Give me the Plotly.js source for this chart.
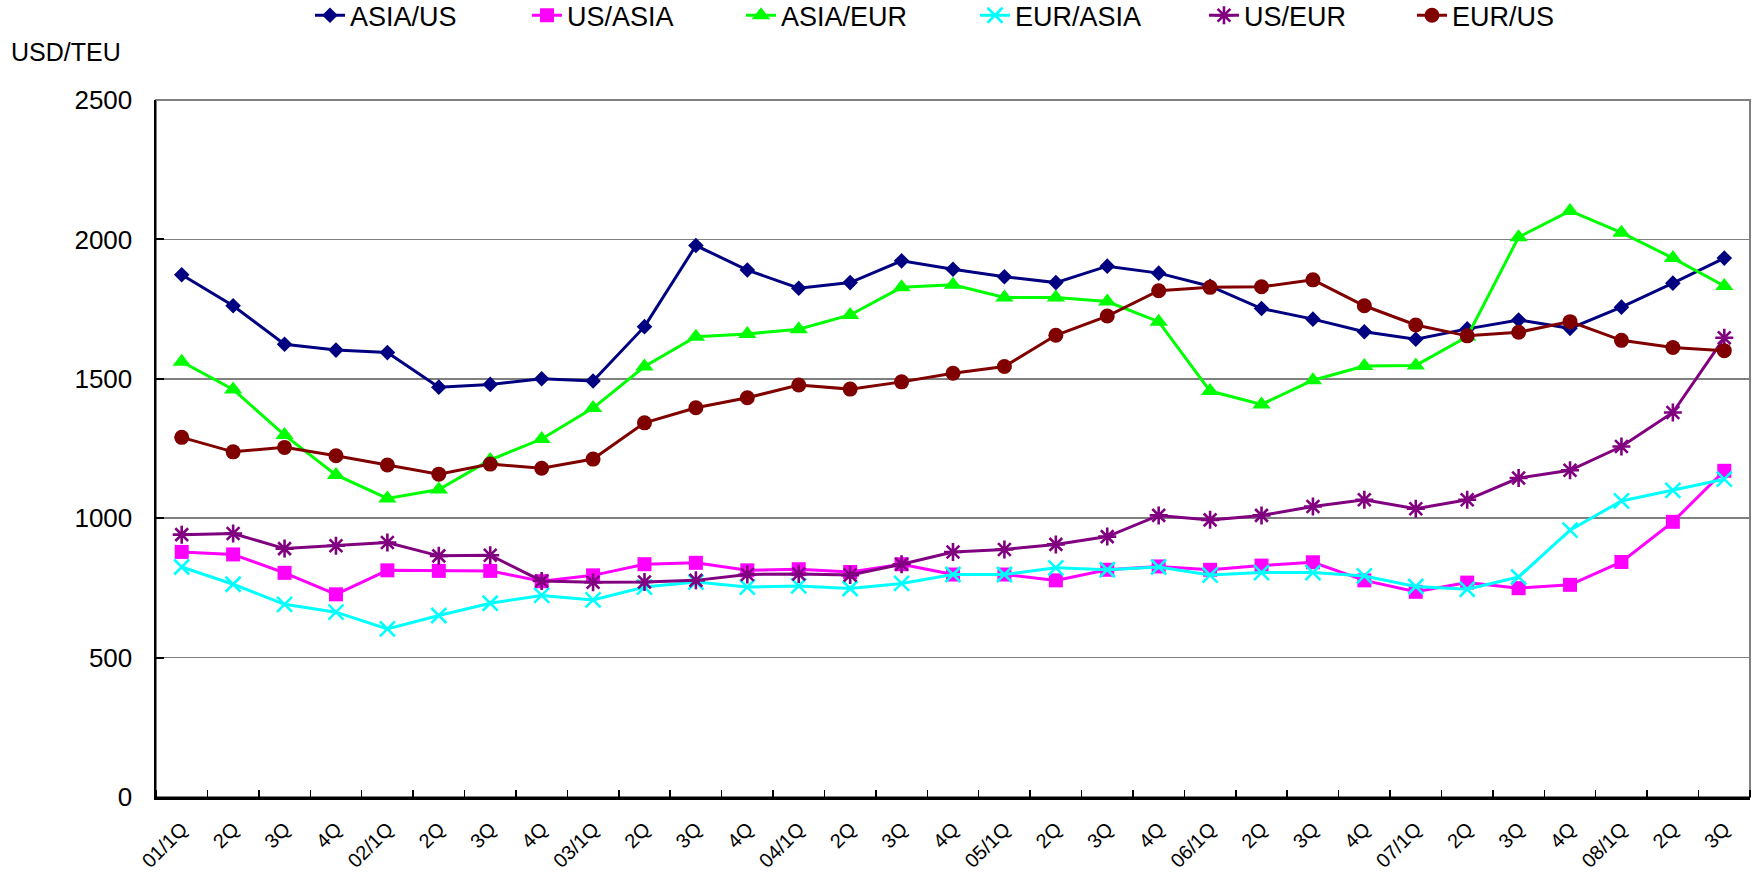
<!DOCTYPE html>
<html><head><meta charset="utf-8">
<script src="https://cdn.plot.ly/plotly-3.0.1.min.js"></script>
<style>html,body{margin:0;padding:0;background:#fff;overflow:hidden}</style>
</head><body><div id="chart" style="width:1753px;height:877px"></div>
<script>
const tickLabels = ["01/1Q","2Q","3Q","4Q","02/1Q","2Q","3Q","4Q","03/1Q","2Q","3Q","4Q","04/1Q","2Q","3Q","4Q","05/1Q","2Q","3Q","4Q","06/1Q","2Q","3Q","4Q","07/1Q","2Q","3Q","4Q","08/1Q","2Q","3Q"];
const seriesNames = ["ASIA/US","US/ASIA","ASIA/EUR","EUR/ASIA","US/EUR","EUR/US"];
const asiaUS  = [1873,1762,1624,1603,1594,1470,1480,1500,1492,1687,1978,1890,1825,1845,1923,1893,1866,1845,1904,1879,1832,1752,1714,1669,1642,1679,1711,1681,1757,1843,1933];
const usAsia  = [879,870,804,727,813,811,811,774,795,835,840,813,817,807,835,798,798,777,815,827,815,830,842,777,736,769,749,761,843,987,1170];
const asiaEur = [1561,1462,1298,1155,1071,1103,1209,1284,1395,1544,1651,1661,1678,1729,1828,1837,1792,1792,1777,1705,1456,1408,1495,1546,1548,1651,2008,2102,2024,1933,1833];
const eurAsia = [825,763,691,663,603,651,695,723,707,753,771,753,757,748,766,798,798,822,815,825,796,805,805,793,755,745,789,957,1062,1100,1140];
const usEur   = [941,945,891,901,913,865,867,775,770,771,777,798,800,796,835,879,888,906,934,1010,994,1010,1042,1066,1034,1066,1144,1172,1257,1379,1647];
const eurUS   = [1290,1238,1254,1224,1191,1158,1194,1179,1212,1342,1396,1432,1478,1463,1489,1520,1544,1656,1725,1816,1828,1830,1855,1762,1693,1654,1667,1705,1638,1612,1601];
const yTicks = [0,500,1000,1500,2000,2500];

const FONT = "Liberation Sans, Arial, sans-serif";
const xIdx = tickLabels.map((_, i) => i);
const styles = [
  {color:"#000080", symbol:"diamond", size:12, lw:0, lg:172},
  {color:"#FF00FF", symbol:"square", size:14, lw:0, lg:169},
  {color:"#00FF00", symbol:"triangle-up", size:16, lw:0, lg:189},
  {color:"#00FFFF", symbol:"x-thin-open", size:15, lw:2.6, lg:184},
  {color:"#800080", symbol:"asterisk-open", size:15, lw:2.6, lg:163},
  {color:"#800000", symbol:"circle", size:15, lw:0, lg:150}
];
const values = [asiaUS, usAsia, asiaEur, eurAsia, usEur, eurUS];
const traces = values.map((v, k) => {
  const s = styles[k];
  return {
    type: "scatter", mode: "lines+markers", name: seriesNames[k],
    x: xIdx, y: v,
    line: {color: s.color, width: 3},
    marker: {symbol: s.symbol, size: s.size, color: s.color,
             line: {color: s.color, width: s.lw}},
    legendwidth: s.lg,
    cliponaxis: false
  };
});

const layout = {
  width: 1753, height: 877,
  margin: {l:156, r:3, t:100, b:80, pad:0, autoexpand:false},
  paper_bgcolor: "#fff", plot_bgcolor: "#fff",
  font: {family: FONT, color: "#000"},
  showlegend: true,
  legend: {orientation:"h", x:0.0966, xanchor:"left", y:1.121, yanchor:"middle",
           font:{size:27, family:FONT, color:"#000"}, entrywidthmode:"pixels",
           bgcolor:"rgba(0,0,0,0)"},
  xaxis: {
    range:[-0.5, 30.5], tickmode:"array", tickvals:xIdx, ticktext:tickLabels,
    tickangle:-45, ticks:"", showgrid:false, zeroline:false,
    showline:true, linecolor:"#000", linewidth:2.5,
    tickfont:{size:20, family:FONT, color:"#000"}, ticklabelstandoff:10,
    minor:{ticks:"inside", ticklen:7, tickwidth:1.5, tickcolor:"#000", tick0:-0.5, dtick:1, showgrid:false},
    fixedrange:true
  },
  yaxis: {
    range:[0,2500], tickmode:"array", tickvals:yTicks, ticks:"inside", ticklen:8, tickwidth:2, tickcolor:"#000",
    showgrid:true, gridcolor:"#808080", gridwidth:1.5, zeroline:false,
    showline:true, linecolor:"#000", linewidth:2.5,
    tickfont:{size:26, family:FONT, color:"#000"}, ticklabelstandoff:16,
    fixedrange:true
  },
  shapes: [{type:"rect", xref:"paper", yref:"paper", x0:0, x1:1, y0:0, y1:1,
            line:{color:"#808080", width:2}, layer:"below"}],
  annotations: [{text:"USD/TEU", xref:"paper", yref:"paper", x:-0.092, xanchor:"left",
                 y:1.069, yanchor:"middle", showarrow:false, font:{size:25, family:FONT, color:"#000"}}]
};
Plotly.newPlot("chart", traces, layout, {displayModeBar:false, staticPlot:true});
</script></body></html>
